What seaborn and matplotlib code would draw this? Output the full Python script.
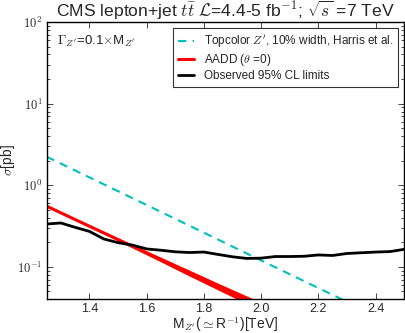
import numpy as np
import pandas as pd
import matplotlib
matplotlib.use("Agg")
import matplotlib.pyplot as plt
import matplotlib.ticker as mticker
import seaborn as sns

# observed 95% CL limits
obs_mass = [1.25, 1.30, 1.35, 1.40, 1.45, 1.50, 1.55, 1.60, 1.65, 1.70, 1.75, 1.80, 1.85,
            1.90, 1.95, 2.00, 2.05, 2.10, 2.15, 2.20, 2.25, 2.30, 2.35, 2.40, 2.45, 2.50]
obs_xsec = [0.335, 0.345, 0.305, 0.272, 0.220, 0.198, 0.185, 0.166, 0.160, 0.153, 0.150, 0.152, 0.142,
            0.133, 0.127, 0.128, 0.134, 0.134, 0.135, 0.140, 0.138, 0.146, 0.149, 0.152, 0.154, 0.164]

# topcolor Z' 10% width
topc_mass = [1.25, 1.50, 1.75, 2.00, 2.25, 2.50]
topc_xsec = [2.24, 0.845, 0.319, 0.120, 0.0454, 0.0171]

# AADD (theta = 0) with band
aadd_mass = [1.25, 1.35, 1.45, 1.55, 1.65, 1.75, 1.85, 1.95, 2.05]
aadd_xsec = [0.555, 0.380, 0.261, 0.179, 0.1225, 0.0839, 0.0575, 0.0394, 0.027]
aadd_up = [0.565, 0.390, 0.270, 0.188, 0.131, 0.091, 0.063, 0.0440, 0.031]
aadd_dn = [0.545, 0.370, 0.252, 0.171, 0.115, 0.077, 0.052, 0.0352, 0.024]

sns.set_style("ticks")
plt.rcParams["font.family"] = ["Liberation Sans", "DejaVu Sans"]
plt.rcParams["mathtext.fontset"] = "cm"
plt.rcParams["xtick.direction"] = "in"
plt.rcParams["ytick.direction"] = "in"

obs = pd.DataFrame({"mass": obs_mass, "xsec": obs_xsec})
topc = pd.DataFrame({"mass": topc_mass, "xsec": topc_xsec})
aadd = pd.DataFrame({"mass": aadd_mass, "xsec": aadd_xsec})

fig = plt.figure(figsize=(4.05, 3.33), dpi=100)
ax = fig.add_axes([0.115, 0.102, 0.883, 0.832])

sns.lineplot(data=topc, x="mass", y="xsec", ax=ax, color="c", lw=1.5,
             dashes=False, label=r"Topcolor $Z'$, 10% width, Harris et al.")
ax.lines[-1].set_dashes([4, 3])
ax.fill_between(aadd_mass, aadd_dn, aadd_up, color="r", lw=0)
sns.lineplot(data=aadd, x="mass", y="xsec", ax=ax, color="r", lw=2.2,
             label=r"AADD ($\theta$ =0)")
sns.lineplot(data=obs, x="mass", y="xsec", ax=ax, color="k", lw=2.0,
             label="Observed 95% CL limits")

ax.set_yscale("log")
ax.set_xlim(1.25, 2.5)
ax.set_ylim(0.0404, 100)
ax.set_xticks([1.4, 1.6, 1.8, 2.0, 2.2, 2.4])
ax.yaxis.set_major_formatter(
    mticker.FuncFormatter(lambda v, p: r"$10^{%d}$" % int(round(np.log10(v)))))
ax.tick_params(which="both", top=True, right=True)
ax.tick_params(axis="x", labelsize=9, pad=2.5)
ax.tick_params(axis="y", labelsize=9, pad=3)
ax.tick_params(which="major", length=4, width=0.6)
ax.tick_params(which="minor", length=2, width=0.6)
for s in ax.spines.values():
    s.set_linewidth(1.0)
    s.set_color("k")

ax.set_xlabel(r"M$_{Z'}$($\simeq$R$^{-1}$)[TeV]", fontsize=10)
ax.xaxis.set_label_coords(0.5, -0.058)
ax.set_ylabel(r"$\sigma$[pb]", fontsize=10)
ax.yaxis.set_label_coords(-0.084, 0.5)
ax.set_title(r"CMS lepton+jet $t\bar{t}$ $\mathcal{L}$=4.4-5 fb$^{-1}$; $\sqrt{s}$ =7 TeV",
             fontsize=12.6, pad=2)
ax.text(0.03, 0.93, r"$\Gamma_{Z'}$=0.1$\times$M$_{Z'}$", transform=ax.transAxes,
        fontsize=9.5, va="center")

leg = ax.legend(loc="upper right", fontsize=8.5, handlelength=1.4, frameon=True,
                fancybox=False, borderaxespad=0.5, labelspacing=0.2, handletextpad=0.8)
leg.get_frame().set_edgecolor("k")
leg.get_frame().set_linewidth(0.8)

fig.savefig("out.png", dpi=100)
